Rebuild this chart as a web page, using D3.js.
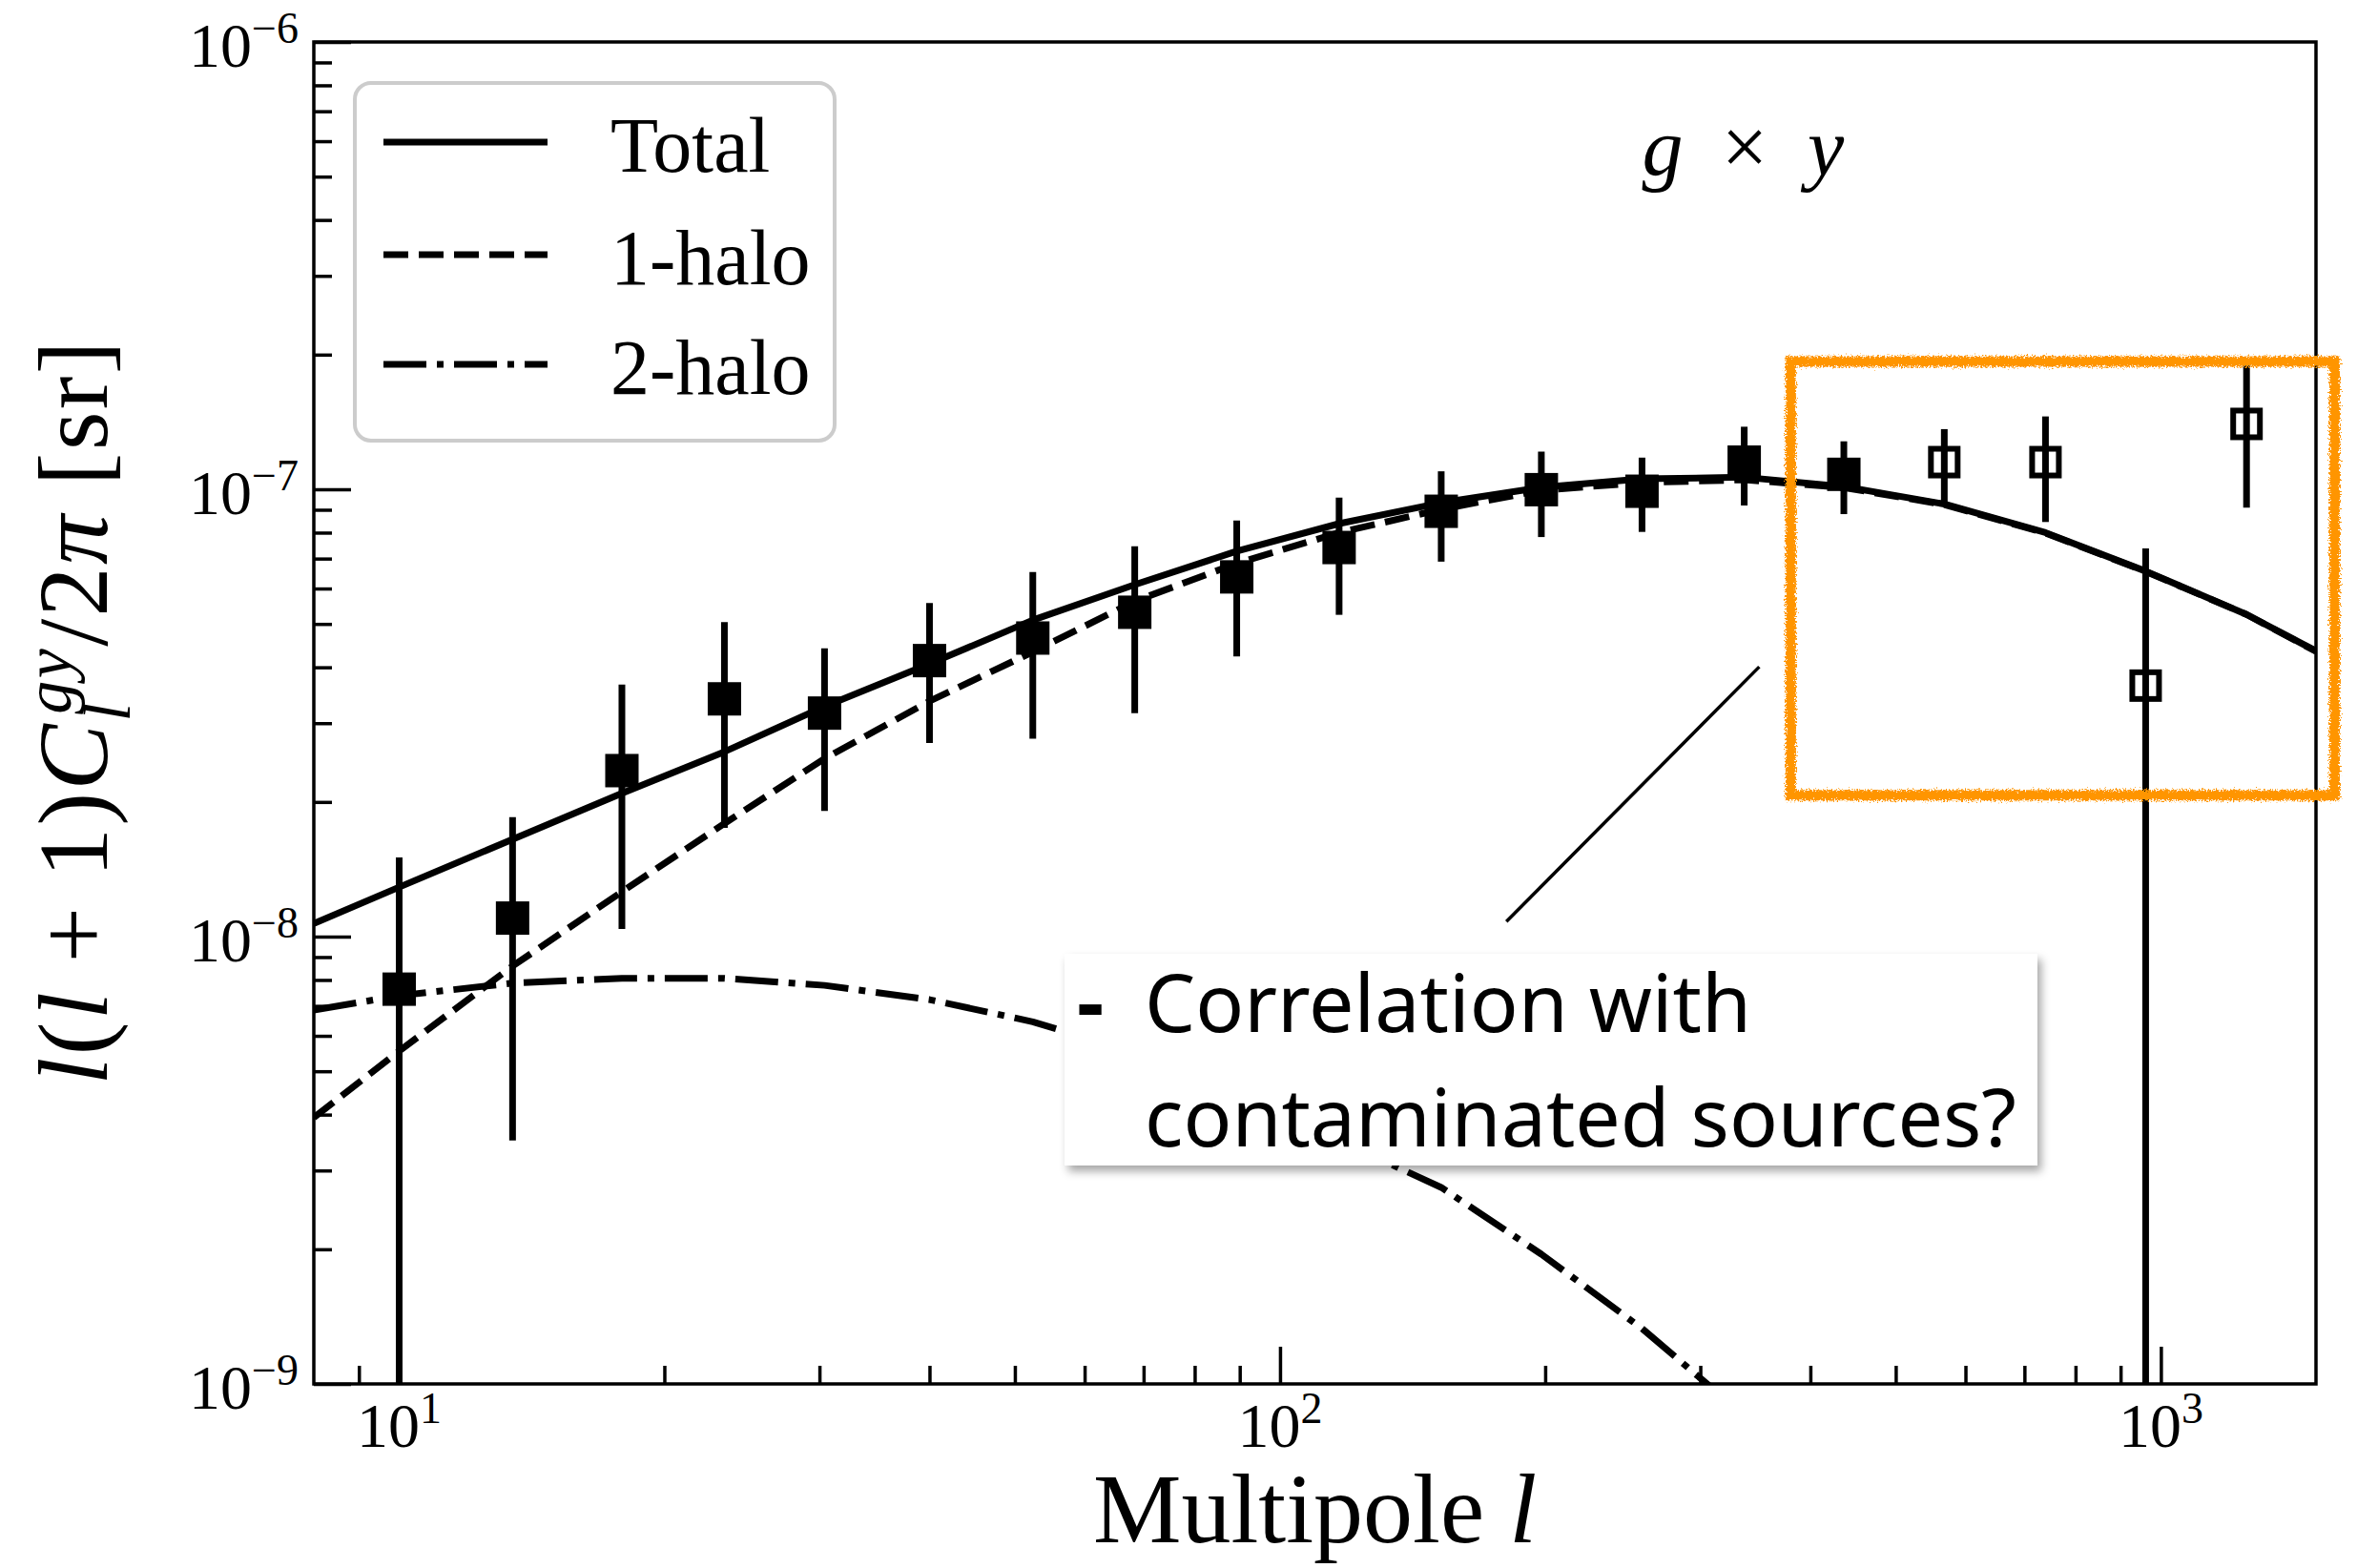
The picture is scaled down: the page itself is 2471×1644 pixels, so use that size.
<!DOCTYPE html>
<html>
<head>
<meta charset="utf-8">
<script src="https://cdn.jsdelivr.net/npm/d3@7"></script>
<style>
  html, body { margin: 0; padding: 0; background: #fff; }
  svg { display: block; }
</style>
</head>
<body>
<svg id="chart" width="2471" height="1644"></svg>
<script>
// ---- model curves, sampled at the band-power multipoles ----
const modelL = [8, 10, 13.45, 17.9, 23.4, 30.4, 40, 52.4, 68.4, 89.3, 116.7, 152.4, 198, 257.6, 336.5, 436.6, 567.7, 739.6, 961, 1251, 1500];
const totalModel = [1.07e-8, 1.29e-8, 1.65e-8, 2.09e-8, 2.59e-8, 3.27e-8, 4.07e-8, 5.10e-8, 6.12e-8, 7.27e-8, 8.38e-8, 9.33e-8, 1.01e-7, 1.055e-7, 1.064e-7, 1.014e-7, 9.27e-8, 8.0e-8, 6.56e-8, 5.25e-8, 4.35e-8];
const oneHaloModel = [3.94e-9, 5.55e-9, 8.59e-9, 1.26e-8, 1.79e-8, 2.50e-8, 3.36e-8, 4.33e-8, 5.62e-8, 6.83e-8, 8.0e-8, 9.02e-8, 9.95e-8, 1.035e-7, 1.05e-7, 1.009e-7, 9.24e-8, 7.98e-8, 6.55e-8, 5.25e-8, 4.34e-8];
const twoHaloL = [8, 10, 13.45, 17.9, 23.4, 30.4, 40, 52.4, 68.4, 89.3, 116.7, 152.4, 198, 257.6, 336.5, 436.6];
const twoHaloModel = [6.85e-9, 7.38e-9, 7.87e-9, 8.07e-9, 8.07e-9, 7.78e-9, 7.23e-9, 6.45e-9, 5.5e-9, 4.5e-9, 3.5e-9, 2.75e-9, 1.95e-9, 1.33e-9, 8.5e-10, 5.0e-10];

// ---- measured g x y band powers (last four shown as open squares) ----
const dataL = [10, 13.45, 17.9, 23.4, 30.4, 40, 52.4, 68.4, 89.3, 116.7, 152.4, 198, 257.6, 336.5, 436.6, 567.7, 739.6, 961, 1251];
const dataC = [7.63e-9, 1.10e-8, 2.35e-8, 3.40e-8, 3.16e-8, 4.14e-8, 4.65e-8, 5.31e-8, 6.37e-8, 7.41e-8, 8.93e-8, 9.98e-8, 9.90e-8, 1.15e-7, 1.08e-7, 1.15e-7, 1.15e-7, 3.64e-8, 1.40e-7];
const dataErr = [7.4e-9, 7.5e-9, 1.31e-8, 1.65e-8, 1.25e-8, 1.43e-8, 1.88e-8, 2.15e-8, 2.14e-8, 2.17e-8, 2.04e-8, 2.16e-8, 1.87e-8, 2.3e-8, 2.0e-8, 2.13e-8, 3.05e-8, 3.74e-8, 4.9e-8];
const dataOpen = [false, false, false, false, false, false, false, false, false, false, false, false, false, false, false, true, true, true, true];

// ---- axis ticks ----
const xMajorTicks = [10, 100, 1000];
const xMajorExp = ["1", "2", "3"];
const yMajorTicks = [1e-9, 1e-8, 1e-7, 1e-6];
const yMajorExp = ["\u22129", "\u22128", "\u22127", "\u22126"];

// ---- legend ----
const legendNames = ["Total", "1-halo", "2-halo"];

// ---- highlighted region and callout (data coordinates) ----
const highlightL = [380, 1575];
const highlightC = [2.07e-8, 1.93e-7];
const calloutFrom = [350, 4.01e-8];
const calloutTo = [180.7, 1.08e-8];
const calloutLines = ["Correlation with", "contaminated sources?"];

// =======================================================================
const SERIF = "'Liberation Serif', 'DejaVu Serif', serif";
const SANS = "'Noto Sans', 'Open Sans', 'DejaVu Sans', sans-serif";
const plot = { left: 329, right: 2428, top: 44, bottom: 1451 };

const x = d3.scaleLog().domain([8, 1500]).range([plot.left, plot.right]);
const y = d3.scaleLog().domain([1e-9, 1e-6]).range([plot.bottom, plot.top]);

const svg = d3.select("#chart");
const defs = svg.append("defs");

defs.append("clipPath").attr("id", "plotClip")
  .append("rect")
  .attr("x", plot.left).attr("y", plot.top)
  .attr("width", plot.right - plot.left).attr("height", plot.bottom - plot.top);

// hand-drawn look for the highlight frame
const rough = defs.append("filter").attr("id", "rough")
  .attr("x", "-5%").attr("y", "-5%").attr("width", "110%").attr("height", "110%");
rough.append("feTurbulence").attr("type", "fractalNoise")
  .attr("baseFrequency", 0.6).attr("numOctaves", 3).attr("seed", 7).attr("result", "noise");
rough.append("feDisplacementMap").attr("in", "SourceGraphic").attr("in2", "noise")
  .attr("scale", 9).attr("xChannelSelector", "R").attr("yChannelSelector", "G");

// soft shadow under the callout box
const shadow = defs.append("filter").attr("id", "shadow")
  .attr("x", "-10%").attr("y", "-20%").attr("width", "125%").attr("height", "150%");
shadow.append("feDropShadow").attr("dx", 4).attr("dy", 6).attr("stdDeviation", 5)
  .attr("flood-color", "#000").attr("flood-opacity", 0.35);

const line = d3.line().x(d => x(d[0])).y(d => y(d[1]));

// ---- model curves ----
const curves = svg.append("g").attr("clip-path", "url(#plotClip)");
const lineStyles = [
  { data: d3.zip(modelL, totalModel), dash: null },
  { data: d3.zip(modelL, oneHaloModel), dash: "26 11" },
  { data: d3.zip(twoHaloL, twoHaloModel), dash: "45 11 7 11" }
];
lineStyles.forEach(s => {
  curves.append("path").datum(s.data)
    .attr("d", line)
    .attr("fill", "none")
    .attr("stroke", "#000")
    .attr("stroke-width", 7)
    .attr("stroke-linejoin", "round")
    .attr("stroke-dasharray", s.dash);
});

// ---- data points with error bars ----
const points = dataL.map((l, i) => ({ l, c: dataC[i], e: dataErr[i], open: dataOpen[i] }));
const pts = svg.append("g").attr("clip-path", "url(#plotClip)");
pts.selectAll("line.err").data(points).join("line")
  .attr("class", "err")
  .attr("x1", d => x(d.l)).attr("x2", d => x(d.l))
  .attr("y1", d => y(Math.max(d.c - d.e, 1e-11)))
  .attr("y2", d => y(d.c + d.e))
  .attr("stroke", "#000").attr("stroke-width", 7);

const FILLED = 35, OPEN = 28;
pts.selectAll("rect.filled").data(points.filter(d => !d.open)).join("rect")
  .attr("class", "filled")
  .attr("x", d => x(d.l) - FILLED / 2).attr("y", d => y(d.c) - FILLED / 2)
  .attr("width", FILLED).attr("height", FILLED)
  .attr("fill", "#000");
pts.selectAll("rect.open").data(points.filter(d => d.open)).join("rect")
  .attr("class", "open")
  .attr("x", d => x(d.l) - OPEN / 2).attr("y", d => y(d.c) - OPEN / 2)
  .attr("width", OPEN).attr("height", OPEN)
  .attr("fill", "none").attr("stroke", "#000").attr("stroke-width", 6);

// ---- callout line ----
svg.append("line")
  .attr("x1", x(calloutFrom[0])).attr("y1", y(calloutFrom[1]))
  .attr("x2", x(calloutTo[0])).attr("y2", y(calloutTo[1]))
  .attr("stroke", "#000").attr("stroke-width", 3.5);

// ---- axes (ticks point inward) ----
const isMajor = v => Math.abs(Math.log10(v) - Math.round(Math.log10(v))) < 1e-9;
const xMinor = x.ticks().filter(v => !isMajor(v) && v > 8);
const yMinor = y.ticks().filter(v => !isMajor(v));

function styleAxis(g) {
  g.select(".domain").remove();
  g.selectAll(".tick line").attr("stroke", "#000").attr("stroke-width", 3.5);
  g.selectAll(".tick text").remove();
}
svg.append("g").attr("transform", `translate(0,${plot.bottom})`)
  .call(d3.axisBottom(x).tickValues(xMajorTicks).tickSize(-39).tickFormat(""))
  .call(styleAxis);
svg.append("g").attr("transform", `translate(0,${plot.bottom})`)
  .call(d3.axisBottom(x).tickValues(xMinor).tickSize(-19).tickFormat(""))
  .call(styleAxis);
svg.append("g").attr("transform", `translate(${plot.left},0)`)
  .call(d3.axisLeft(y).tickValues(yMajorTicks).tickSize(-39).tickFormat(""))
  .call(styleAxis);
svg.append("g").attr("transform", `translate(${plot.left},0)`)
  .call(d3.axisLeft(y).tickValues(yMinor).tickSize(-19).tickFormat(""))
  .call(styleAxis);

// frame
svg.append("rect")
  .attr("x", plot.left).attr("y", plot.top)
  .attr("width", plot.right - plot.left).attr("height", plot.bottom - plot.top)
  .attr("fill", "none").attr("stroke", "#000").attr("stroke-width", 3.5);

// tick labels as powers of ten
xMajorTicks.forEach((v, i) => {
  const t = svg.append("text")
    .attr("x", x(v)).attr("y", plot.bottom + 66)
    .attr("text-anchor", "middle")
    .attr("font-family", SERIF).attr("font-size", 66);
  t.append("tspan").text("10");
  t.append("tspan").attr("font-size", 46).attr("dy", -25).text(xMajorExp[i]);
});
yMajorTicks.forEach((v, i) => {
  const t = svg.append("text")
    .attr("x", plot.left - 16).attr("y", y(v) + 26)
    .attr("text-anchor", "end")
    .attr("font-family", SERIF).attr("font-size", 66);
  t.append("tspan").text("10");
  t.append("tspan").attr("font-size", 46).attr("dy", -25).text(yMajorExp[i]);
});

// axis titles
const xt = svg.append("text")
  .attr("x", (plot.left + plot.right) / 2).attr("y", 1617)
  .attr("text-anchor", "middle")
  .attr("font-family", SERIF).attr("font-size", 104);
xt.append("tspan").text("Multipole ");
xt.append("tspan").attr("font-style", "italic").text("l");

const yt = svg.append("text")
  .attr("transform", `translate(112,${(plot.top + plot.bottom) / 2}) rotate(-90)`)
  .attr("text-anchor", "middle")
  .attr("font-family", SERIF).attr("font-size", 104)
  .attr("textLength", 780).attr("lengthAdjust", "spacing");
yt.append("tspan").attr("font-style", "italic").text("l");
yt.append("tspan").text("(");
yt.append("tspan").attr("font-style", "italic").text("l");
yt.append("tspan").text(" + 1)");
yt.append("tspan").attr("font-style", "italic").text("C");
yt.append("tspan").attr("font-style", "italic").attr("font-size", 70).attr("dy", 24).text("l");
yt.append("tspan").attr("font-style", "italic").attr("font-size", 70).attr("dx", -14).attr("dy", -62).text("gy");
yt.append("tspan").attr("dy", 38).text("/2");
yt.append("tspan").attr("font-style", "italic").text("\u03c0");
yt.append("tspan").text(" [sr]");

// panel label  g x y
[["g", 1743, "italic"], ["\u00d7", 1829, "normal"], ["y", 1914, "italic"]].forEach(([s, cx, st]) => {
  svg.append("text")
    .attr("x", cx).attr("y", 183)
    .attr("text-anchor", "middle")
    .attr("font-family", SERIF).attr("font-style", st).attr("font-size", 86)
    .text(s);
});

// ---- legend ----
const legend = svg.append("g");
legend.append("rect")
  .attr("x", 372).attr("y", 87).attr("width", 503).attr("height", 375)
  .attr("rx", 17).attr("ry", 17)
  .attr("fill", "#fff").attr("stroke", "#cccccc").attr("stroke-width", 4);
const legendRows = [149, 267, 382];
legendNames.forEach((name, i) => {
  legend.append("line")
    .attr("x1", 402).attr("x2", 574)
    .attr("y1", legendRows[i]).attr("y2", legendRows[i])
    .attr("stroke", "#000").attr("stroke-width", 7)
    .attr("stroke-dasharray", lineStyles[i].dash);
  legend.append("text")
    .attr("x", 640).attr("y", legendRows[i] + 31)
    .attr("font-family", SERIF).attr("font-size", 82)
    .text(name);
});

// ---- highlight frame ----
svg.append("rect")
  .attr("x", x(highlightL[0])).attr("y", y(highlightC[1]))
  .attr("width", x(highlightL[1]) - x(highlightL[0]))
  .attr("height", y(highlightC[0]) - y(highlightC[1]))
  .attr("fill", "none").attr("stroke", "#ff9500").attr("stroke-width", 11)
  .attr("filter", "url(#rough)");

// ---- callout box ----
const box = svg.append("g");
box.append("rect")
  .attr("x", 1116).attr("y", 1000).attr("width", 1020).attr("height", 222)
  .attr("fill", "#fff").attr("filter", "url(#shadow)");
const calloutText = box.append("g").attr("font-family", SANS).attr("fill", "#000");
const t1 = calloutText.append("text").attr("x", 1200).attr("y", 1082).text(calloutLines[0]);
const t2 = calloutText.append("text").attr("x", 1200).attr("y", 1202).text(calloutLines[1]);
// size the text so the long line spans the box
t2.attr("font-size", 80);
const w80 = t2.node().getComputedTextLength();
const fs = 80 * 914 / w80;
t1.attr("font-size", fs);
t2.attr("font-size", fs);
calloutText.append("text").attr("x", 1129).attr("y", 1082)
  .attr("font-size", fs * 1.05).attr("font-weight", 700).text("-");
</script>
</body>
</html>
